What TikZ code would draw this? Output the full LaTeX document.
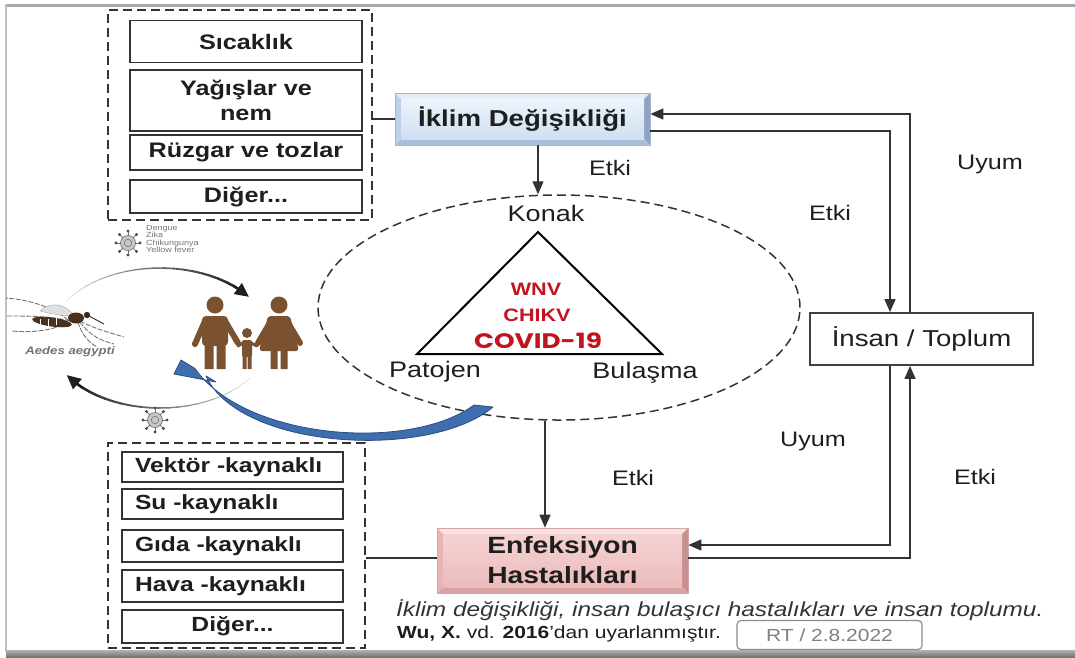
\documentclass[tikz,border=0pt]{standalone}
\usepackage{fontspec}
\setmainfont{Liberation Sans}[FakeStretch=1.2]
\newfontfamily\roundfont{Poppins}[FakeStretch=1.25]
\usetikzlibrary{shapes.geometric,arrows.meta,calc}

\definecolor{ink}{HTML}{1E1E1E}
\definecolor{lineg}{HTML}{333333}
\definecolor{covred}{HTML}{C0141E}
\definecolor{famb}{HTML}{7A5230}
\definecolor{arrblue}{HTML}{3E6EAD}
\definecolor{arrbluedk}{HTML}{2A4F80}
\definecolor{framegray}{HTML}{A7A7AF}
% bevel colours, blue box
\definecolor{bfacet}{HTML}{EEF4FB}
\definecolor{bfaceb}{HTML}{CFDFF2}
\definecolor{btop}{HTML}{E4EDF8}
\definecolor{bleft}{HTML}{BDD1EA}
\definecolor{bright}{HTML}{8FA4C2}
\definecolor{bbot}{HTML}{A8BEDB}
% bevel colours, pink box
\definecolor{pfacet}{HTML}{F5D2D2}
\definecolor{pfaceb}{HTML}{ECBBBB}
\definecolor{ptop}{HTML}{F9E2E2}
\definecolor{pleft}{HTML}{E9B4B4}
\definecolor{pright}{HTML}{C99090}
\definecolor{pbot}{HTML}{D9A2A2}

\tikzset{
  itembox/.style={draw=lineg, line width=1.3pt, fill=white, inner sep=0pt,
    text=ink, align=center},
  topfont/.style={font=\fontsize{21}{25}\selectfont\bfseries},
  botfont/.style={font=\fontsize{20.5}{24}\selectfont\bfseries},
  groupbox/.style={draw=lineg, line width=1.7pt, dash pattern=on 9pt off 5pt, inner sep=0pt},
  lbl/.style={font=\fontsize{21}{25}\selectfont, text=ink, inner sep=0pt},
  biglbl/.style={font=\fontsize{22.5}{26}\selectfont, text=ink, inner sep=0pt},
  conn/.style={draw=lineg, line width=1.4pt},
  arr/.style={conn, -{Triangle[length=13pt,width=11pt]}},
  bevel/.style n args={6}{path picture={
    \fill[#3] (path picture bounding box.north west) -- (path picture bounding box.north east)
      -- ([shift={(-6pt,-6pt)}]path picture bounding box.north east)
      -- ([shift={(6pt,-6pt)}]path picture bounding box.north west) -- cycle;
    \fill[#4] (path picture bounding box.north west) -- ([shift={(6pt,-6pt)}]path picture bounding box.north west)
      -- ([shift={(6pt,6pt)}]path picture bounding box.south west) -- (path picture bounding box.south west) -- cycle;
    \fill[#5] (path picture bounding box.north east) -- ([shift={(-6pt,-6pt)}]path picture bounding box.north east)
      -- ([shift={(-6pt,6pt)}]path picture bounding box.south east) -- (path picture bounding box.south east) -- cycle;
    \fill[#6] (path picture bounding box.south west) -- ([shift={(6pt,6pt)}]path picture bounding box.south west)
      -- ([shift={(-6pt,6pt)}]path picture bounding box.south east) -- (path picture bounding box.south east) -- cycle;
    \shade[top color=#1, bottom color=#2] ([shift={(6pt,-6pt)}]path picture bounding box.north west)
      rectangle ([shift={(-6pt,6pt)}]path picture bounding box.south east);
  }},
  virus/.pic={
    \foreach \k in {0,45,...,315}{
      \draw[black!55, line width=0.8pt] (0,0) -- (\k:12);
      \fill[black!70] (\k:12) circle (1.6);
    }
    \fill[black!22, draw=black!60, line width=0.6pt] (0,0) circle (7.5);
    \draw[black!55, line width=0.6pt] (0,0) circle (3.8);
  }
}

\begin{document}
\begin{tikzpicture}[x=1pt, y=-1pt]
\useasboundingbox (0,0) rectangle (1075,657);

% frame lines
\fill[framegray] (6,4) rectangle (1075,7);
\fill[framegray!70] (5,4) rectangle (7,652);
\shade[top color=black!30, bottom color=black!55] (6,650) rectangle (1075,657);

% climate factors group
\node[groupbox, minimum width=264pt, minimum height=210pt] (topgrp) at (240,115) {};
\node[itembox, topfont, minimum width=232pt, minimum height=42pt] (s1) at (246,41.5) {Sıcaklık};
\node[itembox, topfont, minimum width=232pt, minimum height=61pt] (s2) at (246,100.5) {Yağışlar ve\\nem};
\node[itembox, topfont, minimum width=232pt, minimum height=35pt] (s3) at (246,152.5) {Rüzgar ve tozlar};
\node[itembox, topfont, minimum width=232pt, minimum height=33pt] (s4) at (246,196.5) {Diğer...};

% disease groups
\node[groupbox, minimum width=257pt, minimum height=205pt] (botgrp) at (236.5,545.5) {};
\node[itembox, botfont, align=left, text width=195pt, inner xsep=13pt, minimum height=30pt] (b1) at (232.5,467) {Vektör -kaynaklı};
\node[itembox, botfont, align=left, text width=195pt, inner xsep=13pt, minimum height=30pt] (b2) at (232.5,504) {Su -kaynaklı};
\node[itembox, botfont, align=left, text width=195pt, inner xsep=13pt, minimum height=32pt] (b3) at (232.5,546) {Gıda -kaynaklı};
\node[itembox, botfont, align=left, text width=195pt, inner xsep=13pt, minimum height=32pt] (b4) at (232.5,586) {Hava -kaynaklı};
\node[itembox, botfont, minimum width=221pt, minimum height=33pt] (b5) at (232.5,626.5) {Diğer...};

% main boxes
\node[draw=bright!80, line width=0.6pt, minimum width=255pt, minimum height=52pt, inner sep=0pt,
  bevel={bfacet}{bfaceb}{btop}{bleft}{bright}{bbot},
  font=\fontsize{23}{27}\selectfont\bfseries, text=ink] (iklim) at (522.5,119) {İklim Değişikliği};
\node[draw=pright!80, line width=0.6pt, minimum width=251pt, minimum height=65pt, inner sep=0pt, align=center,
  bevel={pfacet}{pfaceb}{ptop}{pleft}{pright}{pbot},
  font=\fontsize{23.5}{30}\selectfont\bfseries, text=ink] (enf) at (562.5,560.5) {Enfeksiyon\\Hastalıkları};
\node[draw=black!75, line width=1.8pt, fill=white, minimum width=223pt, minimum height=52pt,
  font=\fontsize{23}{27}\selectfont, text=ink] (insan) at (921.5,339) {İnsan / Toplum};

% host-pathogen-transmission ellipse
\node[draw=lineg, line width=1.5pt, dash pattern=on 9pt off 5pt, ellipse,
  minimum width=482pt, minimum height=225pt] (ell) at (559,307.5) {};
\coordinate (apex) at (538,232);
\coordinate (baseL) at (417,354);
\coordinate (baseR) at (662,354);
\draw[black, line width=2pt, line join=miter] (apex) -- (baseL) -- (baseR) -- cycle;
\node[biglbl] (konak) at (546,213) {Konak};
\node[biglbl] (patojen) at (435,372) {Patojen};
\node[biglbl] (bulasma) at (645,373) {Bulaşma};
\node[font=\fontsize{18}{20}\selectfont\bfseries, text=covred] (wnv) at (536,289) {WNV};
\node[font=\fontsize{18}{20}\selectfont\bfseries, text=covred] (chikv) at (537,315) {CHIKV};
\node[font=\roundfont\fontsize{21}{23}\selectfont\bfseries, text=covred] (covid) at (538,341) {COVID-19};

% connectors
\coordinate (downcol) at (545,0);
\coordinate (outerx) at (910,0);
\coordinate (innerx) at (890,0);
\draw[conn] (iklim.west) -- (iklim.west -| topgrp.east);
\draw[conn] ([yshift=2.5pt]enf.west) -- ([yshift=2.5pt]enf.west -| botgrp.east);
\draw[arr] (iklim.south -| apex) -- (ell.north -| apex);
\draw[arr] (ell.south -| downcol) -- (enf.north -| downcol);
\draw[arr] (insan.north -| outerx) |- ([yshift=5pt]iklim.east);
\draw[arr] ([yshift=-12pt]iklim.east) -| (insan.north -| innerx);
\draw[arr] (insan.south -| innerx) |- ([yshift=15.5pt]enf.east);
\draw[arr] ([yshift=2.5pt]enf.east) -| (insan.south -| outerx);

% connector labels
\node[lbl] (etkiA) at (610,168) {Etki};
\node[lbl] (etkiB) at (830,213) {Etki};
\node[lbl] (uyumA) at (990,164) {Uyum};
\node[lbl] (uyumB) at (813,441) {Uyum};
\node[lbl] (etkiC) at (975,477) {Etki};
\node[lbl] (etkiD) at (633,478) {Etki};

% transmission cycle: tapered arcs
\foreach \a in {212,217,...,312}{
  \pgfmathsetmacro\w{0.3+2.4*(\a-212)/100}
  \pgfmathtruncatemacro\c{20+68*(\a-212)/100}
  \draw[line width=\w pt, black!\c, line cap=round]
    ({160+110*cos(\a)},{338+70*sin(\a)}) -- ({160+110*cos(\a+5)},{338+70*sin(\a+5)});
}
\draw[black!88, line width=2.6pt, -{Triangle[length=14pt,width=13pt]}]
  ({160+110*cos(315)},{338+70*sin(315)}) -- ({160+110*cos(324)},{338+70*sin(324)});
\foreach \a in {35,40,...,135}{
  \pgfmathsetmacro\w{0.3+2.4*(\a-35)/100}
  \pgfmathtruncatemacro\c{20+68*(\a-35)/100}
  \draw[line width=\w pt, black!\c, line cap=round]
    ({160+110*cos(\a)},{338+70*sin(\a)}) -- ({160+110*cos(\a+5)},{338+70*sin(\a+5)});
}
\draw[black!88, line width=2.6pt, -{Triangle[length=14pt,width=13pt]}]
  ({160+110*cos(138)},{338+70*sin(138)}) -- ({160+110*cos(148)},{338+70*sin(148)});

% viruses
\pic at (128,243) {virus};
\pic at (155,420) {virus};
\node[anchor=north west, align=left, inner sep=0pt, text=black!55,
  font=\fontsize{7.5}{7.5}\selectfont] (vlist) at (146,225) {Dengue\\Zika\\Chikungunya\\Yellow fever};

% mosquito
\begin{scope}[black!55, line width=0.9pt, dash pattern=on 5pt off 1.5pt]
  \draw (68,320) .. controls (50,306) and (30,300) .. (6,298);
  \draw (70,321) .. controls (50,316) and (30,316) .. (6,316);
  \draw (68,322) .. controls (55,330) and (35,333) .. (12,331);
  \draw (80,321) .. controls (97,330) and (112,333) .. (124,337);
  \draw (80,322) .. controls (90,336) and (102,341) .. (114,344);
  \draw (78,322) .. controls (82,336) and (90,343) .. (97,347);
\end{scope}
\fill[black!12, draw=black!35, line width=0.4pt] (74,316) .. controls (64,301) and (48,303) .. (40,311) .. controls (52,314) and (64,316) .. (74,316);
\fill[famb!60!black, rotate around={-8:(52,322)}] (52,322) ellipse [x radius=20, y radius=4.5];
\draw[white, line width=0.7pt] (40,319) -- (40,326) (48,319) -- (48,326) (56,318) -- (56,325);
\fill[famb!60!black] (76,318) ellipse [x radius=8, y radius=5.5];
\fill[famb!50!black] (87,315) circle (3.2);
\draw[famb!50!black, line width=0.9pt] (89,316) -- (104,324);
\node[text=black!55, font=\fontsize{11}{13}\selectfont\bfseries\itshape] (aedes) at (70,352) {Aedes aegypti};

% family
\fill[famb] (215,305) circle (8.5);
\fill[famb, rounded corners=4pt] (202,316) rectangle (228,346);
\draw[famb, line width=6pt, line cap=round] (205,321) -- (195,344) (225,321) -- (238,343);
\fill[famb] (204.5,340) rectangle (213.5,369) (216.5,340) rectangle (225.5,369);
\fill[famb] (247,333) circle (5);
\fill[famb, rounded corners=2pt] (242,340) rectangle (252,357);
\draw[famb, line width=3pt, line cap=round] (243,343) -- (238,346) (251,343) -- (257,346);
\fill[famb] (242.5,352) rectangle (246.5,369) (247.5,352) rectangle (251.5,369);
\fill[famb] (279,305) circle (8.5);
\fill[famb, rounded corners=3pt] (268,316) -- (290,316) -- (299,351) -- (259,351) -- cycle;
\draw[famb, line width=6pt, line cap=round] (271,321) -- (258,343) (287,321) -- (300,343);
\fill[famb] (270.5,348) rectangle (277.5,369) (280.5,348) rectangle (287.5,369);

% curved blue arrow from the ellipse to the people
\fill[arrblue, draw=arrbluedk, line width=0.8pt, line join=round]
  (174,374) -- (181,360) -- (195,368.5)
  .. controls (245,440) and (410,452) .. (474,405)
  -- (493,407)
  .. controls (430,460) and (240,450) .. (206,376)
  -- (216,382) -- cycle;

% caption
\node[anchor=west, inner sep=0pt, text=black!80, font=\fontsize{20.3}{23}\selectfont\itshape] (cap) at (396,610)
  {İklim değişikliği, insan bulaşıcı hastalıkları ve insan toplumu.};
\node[anchor=west, inner sep=0pt, text=ink, font=\fontsize{17.5}{20}\selectfont] (src) at (397,634)
  {\textbf{Wu, X.} vd. \textbf{2016}’dan uyarlanmıştır.};
\node[draw=black!45, line width=1.2pt, rounded corners=4pt, minimum width=185pt, minimum height=29pt,
  text=black!50, font=\fontsize{17.5}{19}\selectfont] (stamp) at (829.5,635) {RT / 2.8.2022};
\end{tikzpicture}
\end{document}
